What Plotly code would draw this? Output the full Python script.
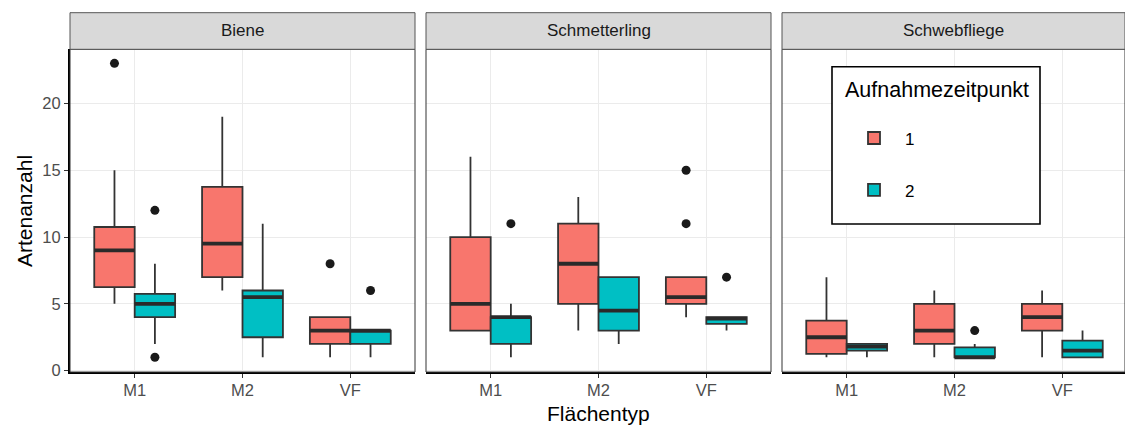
import plotly.graph_objects as go

# Categories, facets and fill groups
categories = ["M1", "M2", "VF"]
facets = ["Biene", "Schmetterling", "Schwebfliege"]
zeitpunkte = ["1", "2"]
fill_colors = ["#F8766D", "#00BFC4"]

# Box statistics per facet: [Aufnahmezeitpunkt 1, Aufnahmezeitpunkt 2], each over M1, M2, VF
lf_biene = [[5, 6, 1], [2, 1, 1]]
q1_biene = [[6.25, 7, 2], [4, 2.5, 2]]
med_biene = [[9, 9.5, 3], [5, 5.5, 3]]
q3_biene = [[10.75, 13.75, 4], [5.75, 6, 3]]
uf_biene = [[15, 19, 4], [8, 11, 3]]
out_biene = [[[23], [], [8]], [[12, 1], [], [6]]]

lf_schm = [[3, 3, 4], [1, 2, 3]]
q1_schm = [[3, 5, 5], [2, 3, 3.5]]
med_schm = [[5, 8, 5.5], [4, 4.5, 3.9]]
q3_schm = [[10, 11, 7], [4, 7, 4]]
uf_schm = [[16, 13, 7], [5, 7, 4]]
out_schm = [[[], [], [15, 11]], [[11], [], [7]]]

lf_schw = [[1, 1, 1], [1, 1, 1]]
q1_schw = [[1.25, 2, 3], [1.5, 1, 1]]
med_schw = [[2.5, 3, 4], [1.8, 1, 1.5]]
q3_schw = [[3.75, 5, 5], [2, 1.75, 2.25]]
uf_schw = [[7, 6, 6], [2, 2, 3]]
out_schw = [[[], [], []], [[], [3], []]]

y_ticks = [0, 5, 10, 15, 20]

stats = [
    (lf_biene, q1_biene, med_biene, q3_biene, uf_biene, out_biene),
    (lf_schm, q1_schm, med_schm, q3_schm, uf_schm, out_schm),
    (lf_schw, q1_schw, med_schw, q3_schw, uf_schw, out_schw),
]

W, H = 1125, 428
FONT = "Liberation Sans, Arial, sans-serif"
LINE = "#333333"

# panel geometry in pixels
panel_x = [(70, 415), (426, 771), (782, 1125)]
panel_top, panel_bot = 49.3, 372.0
strip_top = 12.7
y_dom = [1 - panel_bot / H, 1 - panel_top / H]
strip_dom = [1 - panel_top / H, 1 - strip_top / H]
px_per_cat = 345 / 3.2

# legend frame (pixels)
leg_l, leg_r, leg_t, leg_b = 832, 1040, 66.7, 224


def samples(lists):
    # plotly needs a placeholder entry where a box has no outliers
    return [v if len(v) else [None] for v in lists]


fig = go.Figure()

for p, (lf, q1, med, q3, uf, outl) in enumerate(stats):
    xa = "x" if p == 0 else f"x{p + 1}"
    ya = "y" if p == 0 else f"y{p + 1}"
    for g in range(2):
        fig.add_trace(go.Box(
            x=categories, y=samples(outl[g]),
            q1=q1[g], median=med[g], q3=q3[g],
            lowerfence=lf[g], upperfence=uf[g],
            orientation="v",
            name=zeitpunkte[g], legendgroup=zeitpunkte[g],
            legendgrouptitle=dict(text=" ", font=dict(size=16)),
            showlegend=(p == 0),
            offsetgroup=zeitpunkte[g], alignmentgroup=f"a{p}",
            fillcolor=fill_colors[g],
            line=dict(color=LINE, width=1.8),
            whiskerwidth=0,
            boxpoints="outliers", jitter=0, pointpos=0,
            marker=dict(color="#1a1a1a", size=9, line=dict(width=0)),
            xaxis=xa, yaxis=ya, hoverinfo="skip",
        ))
    # thicker median bars on top of each box
    for g in range(2):
        fig.add_trace(go.Box(
            x=categories,
            q1=med[g], median=med[g], q3=med[g],
            lowerfence=med[g], upperfence=med[g],
            orientation="v",
            name=zeitpunkte[g], showlegend=False,
            offsetgroup=zeitpunkte[g], alignmentgroup=f"a{p}",
            fillcolor="rgba(0,0,0,0)",
            line=dict(color="#2a2a2a", width=3.8),
            whiskerwidth=0, boxpoints=False,
            xaxis=xa, yaxis=ya, hoverinfo="skip",
        ))

layout = dict(
    width=W, height=H,
    margin=dict(l=0, r=0, t=0, b=0),
    paper_bgcolor="white", plot_bgcolor="white",
    font=dict(family=FONT, color="#4D4D4D"),
    boxmode="group", boxgap=0.25, boxgroupgap=0,
    showlegend=True,
    legend=dict(
        x=843 / W, y=1 - (leg_t + 2) / H, xanchor="left", yanchor="top",
        bgcolor="rgba(0,0,0,0)", borderwidth=0,
        font=dict(family=FONT, size=17, color="black"),
        title=dict(text="Aufnahmezeitpunkt", font=dict(family=FONT, size=21.5, color="black")),
        tracegroupgap=3, itemwidth=52,
    ),
)

shapes = []
annotations = []
for p in range(3):
    x0, x1 = panel_x[p]
    sfx = "" if p == 0 else str(p + 1)
    rng_hi = -0.6 + (x1 - x0) / px_per_cat
    layout[f"xaxis{sfx}"] = dict(
        domain=[x0 / W, x1 / W], anchor=f"y{sfx}",
        type="category", categoryorder="array", categoryarray=categories,
        range=[-0.6, rng_hi],
        showgrid=True, gridcolor="#EBEBEB", gridwidth=1.3,
        ticks="outside", ticklen=4, tickwidth=1.1, tickcolor=LINE,
        ticklabelstandoff=-2,
        tickfont=dict(family=FONT, size=16.5, color="#4D4D4D"),
        showline=True, linecolor="black", linewidth=2,
        zeroline=False, fixedrange=True, automargin=False,
    )
    yax = dict(
        domain=y_dom, anchor=f"x{sfx}",
        range=[-0.1, 24.05], tickvals=y_ticks,
        showgrid=True, gridcolor="#EBEBEB", gridwidth=1.3,
        zeroline=False, fixedrange=True, automargin=False,
    )
    if p == 0:
        yax.update(
            ticks="outside", ticklen=4, tickwidth=1.1, tickcolor=LINE,
            tickfont=dict(family=FONT, size=16.5, color="#4D4D4D"),
            showline=True, linecolor="black", linewidth=2,
        )
    else:
        yax.update(showticklabels=False, ticks="", showline=False)
    layout[f"yaxis{sfx}"] = yax

    # panel border
    shapes.append(dict(
        type="rect", xref="paper", yref="paper",
        x0=x0 / W, x1=x1 / W, y0=y_dom[0], y1=y_dom[1],
        line=dict(color=LINE, width=1), layer="above",
    ))
    # facet strip
    shapes.append(dict(
        type="rect", xref="paper", yref="paper",
        x0=x0 / W, x1=x1 / W, y0=strip_dom[0], y1=strip_dom[1],
        fillcolor="#D9D9D9", line=dict(color="#555555", width=1), layer="above",
    ))
    annotations.append(dict(
        text=facets[p], xref="paper", yref="paper",
        x=(x0 + x1) / 2 / W, y=sum(strip_dom) / 2,
        xanchor="center", yanchor="middle", showarrow=False,
        font=dict(family=FONT, size=17, color="#1A1A1A"),
    ))

# legend frame
shapes.append(dict(
    type="rect", xref="paper", yref="paper",
    x0=leg_l / W, x1=leg_r / W, y0=1 - leg_b / H, y1=1 - leg_t / H,
    fillcolor="white", line=dict(color="black", width=1.6), layer="above",
))

annotations.append(dict(
    text="Flächentyp", xref="paper", yref="paper",
    x=(426 + 771) / 2 / W, y=1 - 413 / H, xanchor="center", yanchor="middle",
    showarrow=False, font=dict(family=FONT, size=21, color="black"),
))
annotations.append(dict(
    text="Artenanzahl", xref="paper", yref="paper", textangle=-90,
    x=24 / W, y=1 - 211 / H, xanchor="center", yanchor="middle",
    showarrow=False, font=dict(family=FONT, size=21, color="black"),
))

layout["shapes"] = shapes
layout["annotations"] = annotations
fig.update_layout(**layout)

fig.write_html("out.html", config={"displayModeBar": False})
